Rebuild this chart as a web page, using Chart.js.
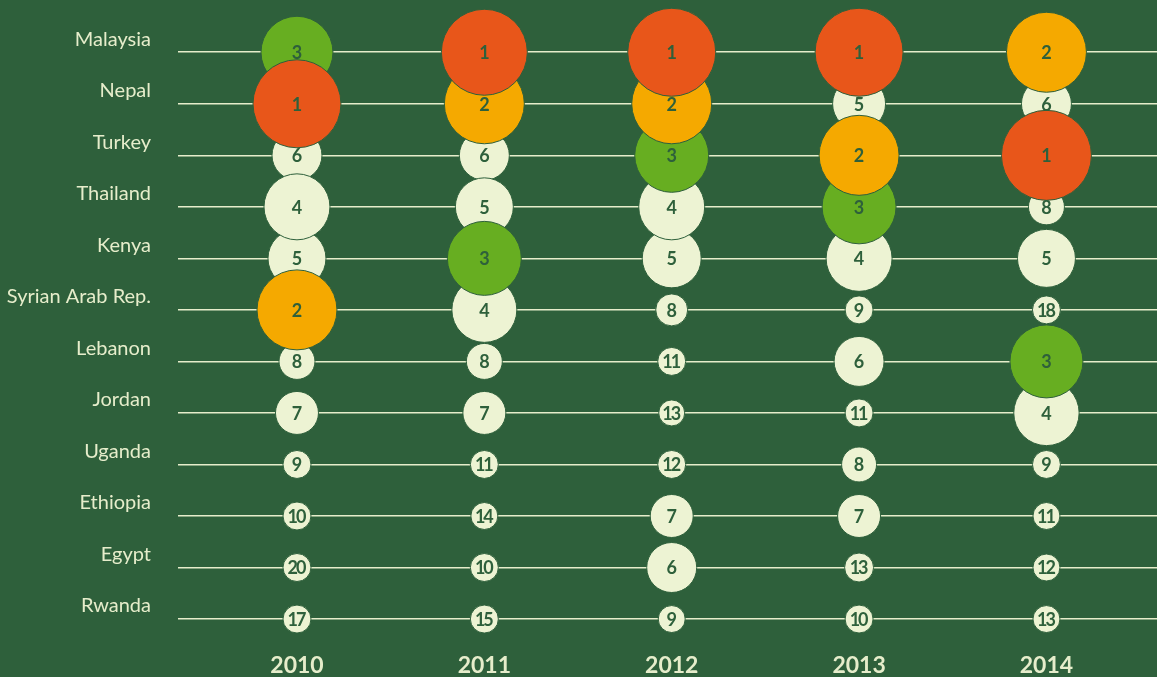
<!DOCTYPE html>
<html><head><meta charset="utf-8">
<script src="https://cdn.jsdelivr.net/npm/chart.js@4.4.0/dist/chart.umd.min.js"></script>
<style>html,body{margin:0;padding:0;background:#2e603b;overflow:hidden}#wrap{width:1157px;height:677px}</style>
</head><body><div id="wrap"><canvas id="c" width="1157" height="677"></canvas></div>
<script>
const countries = ["Malaysia","Nepal","Turkey","Thailand","Kenya","Syrian Arab Rep.","Lebanon","Jordan","Uganda","Ethiopia","Egypt","Rwanda"];
const years = ["2010","2011","2012","2013","2014"];
// rank per country (same order as countries)
const ranks2010 = [3,1,6,4,5,2,8,7,9,10,20,17];
const ranks2011 = [1,2,6,5,3,4,8,7,11,14,10,15];
const ranks2012 = [1,2,3,4,5,8,11,13,12,7,6,9];
const ranks2013 = [1,5,2,3,4,9,6,11,8,7,13,10];
const ranks2014 = [2,6,1,8,5,18,3,4,9,11,12,13];
// bubble size (radius)
const size2010 = [36,44,25,33,29,40,18,21.5,14,14,14,14];
const size2011 = [43,40,25,29,37,32.5,18,21.5,14,13.5,14,14];
const size2012 = [44,40,37,33,29.5,16,14,13,14,21.5,25,13.5];
const size2013 = [44,26.5,40,37,33,14,25,14,17.5,21.5,14.5,14];
const size2014 = [40,25,45,18,29,14,36.5,32.7,14,13.5,13.5,13.5];

const BG = '#2e603b', CREAM = '#edf3d3', TXT = '#e6edcb';
const rankTable = [ranks2010,ranks2011,ranks2012,ranks2013,ranks2014];
const sizeTable = [size2010,size2011,size2012,size2013,size2014];
const points = [];
years.forEach((yr,xi)=>countries.forEach((c,ci)=>points.push({x:xi,y:c,r:sizeTable[xi][ci],rank:rankTable[xi][ci]})));
points.sort((a,b)=>b.rank-a.rank);
function colorFor(rank){ return rank===1?'#e8561a':rank===2?'#f5a900':rank===3?'#67ae21':CREAM; }

const bgPlugin = {id:'bg', beforeDraw(chart){const c=chart.ctx;c.save();c.fillStyle=BG;c.fillRect(0,0,chart.width,chart.height);c.restore();}};
const labelPlugin = {id:'lbl', afterDatasetsDraw(chart){
  const ctx=chart.ctx, meta=chart.getDatasetMeta(0);
  ctx.save(); ctx.fillStyle=BG; ctx.textAlign='center'; ctx.textBaseline='middle';
  meta.data.forEach((el,i)=>{
    const t=String(points[i].rank);
    ctx.font='bold 18px Lato';
    ctx.letterSpacing = t.length>1 ? '-2px' : '0px';
    ctx.fillText(t, el.x + (t.length>1?-1:0), el.y+1);
  });
  ctx.restore();
}};

new Chart(document.getElementById('c'), {
  type:'bubble',
  data:{datasets:[{
    data:points,
    backgroundColor:ctx=>colorFor(ctx.raw?ctx.raw.rank:99),
    borderColor:BG, borderWidth:1, clip:false,
    hoverRadius:0
  }]},
  options:{
    responsive:false, animation:false,
    layout:{autoPadding:false,padding:{top:26.5,left:0,right:0,bottom:0}},
    plugins:{legend:{display:false},tooltip:{enabled:false}},
    events:[],
    scales:{
      x:{type:'linear',min:-0.635,max:4.59,position:'bottom',
        grid:{display:false},border:{display:false},
        ticks:{stepSize:1,autoSkip:false,includeBounds:false,padding:-1,color:TXT,
          font:{family:'Lato',weight:'bold',size:23},
          callback:v=>Number.isInteger(v)&&years[v]?years[v]:''},
        afterFit:s=>{s.height=32.2;s.paddingLeft=0;s.paddingRight=0;}},
      y:{type:'category',labels:countries,offset:true,
        grid:{color:TXT,lineWidth:1.6,drawTicks:false},border:{display:false},
        ticks:{padding:27,labelOffset:-13,color:TXT,font:{family:'Lato',size:20,weight:'normal'}},
        afterFit:s=>{s.width=178;s.paddingTop=0;s.paddingBottom=0;}}
    }
  },
  plugins:[bgPlugin,labelPlugin]
});
</script></body></html>
